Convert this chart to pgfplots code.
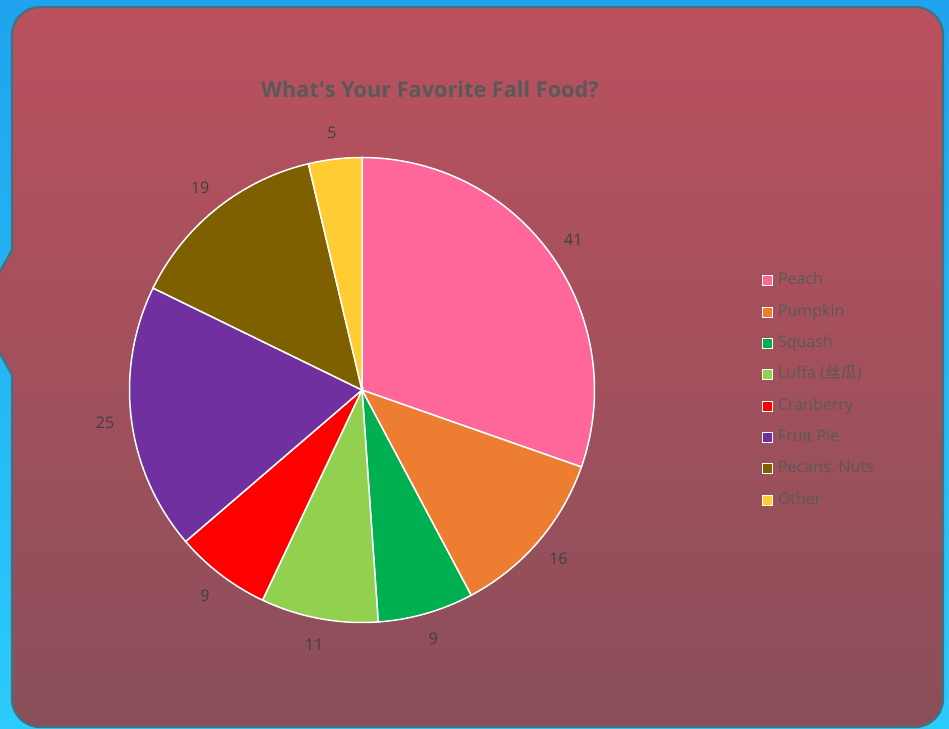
\documentclass[border=0pt]{standalone}
\usepackage{pgfplots}
\pgfplotsset{compat=1.18}
\usepackage{fontspec}
\setmainfont{Open Sans}
\newfontfamily\cjk{Noto Sans CJK SC}
\definecolor{outTop}{HTML}{1FA3EE}
\definecolor{outBot}{HTML}{2BCBFB}
\definecolor{inTop}{HTML}{BA515E}
\definecolor{inBot}{HTML}{8A4F5A}
\definecolor{edge}{HTML}{44707F}
\definecolor{ttl}{HTML}{595959}
\definecolor{lab}{HTML}{404040}
\definecolor{cPeach}{HTML}{FF6699}
\definecolor{cPumpkin}{HTML}{ED7D31}
\definecolor{cSquash}{HTML}{00B050}
\definecolor{cLuffa}{HTML}{92D050}
\definecolor{cCran}{HTML}{FF0000}
\definecolor{cFruit}{HTML}{7030A0}
\definecolor{cPecan}{HTML}{7F6000}
\definecolor{cOther}{HTML}{FFCC33}
% value before, value, colour
\newcommand\pieslice[3]{%
  \addplot[fill=#3, draw=white, line width=1.5pt, domain={90-(#1+#2)*360/135}:{90-#1*360/135}, samples=90]
    ({362+232.5*cos(x)},{338+232.5*sin(x)}) -- (axis cs:362,338) -- cycle;}
\newcommand\pielabel[2]{%
  \node[font=\fontsize{16}{18}\selectfont, text=lab] at (axis cs:{362+259*cos(90-(#1+#2/2)*360/135)},{338+259*sin(90-(#1+#2/2)*360/135)}) {#2};}
\begin{document}
\begin{tikzpicture}[x=1pt,y=1pt]
\useasboundingbox (0,0) rectangle (949,728);
\shade[top color=outTop, bottom color=outBot] (0,0) rectangle (949,728);
\begin{scope}
\clip (0,0) rectangle (949,728);
\shade[top color=inTop, bottom color=inBot]
  (12,478) -- (12,693) arc[start angle=180, end angle=90, radius=28]
  -- (915,721) arc[start angle=90, end angle=0, radius=28]
  -- (943,29) arc[start angle=0, end angle=-90, radius=28]
  -- (40,1) arc[start angle=270, end angle=180, radius=28]
  -- (12,353) -- (-3,380) -- (-3,451) -- cycle;
\draw[edge, line width=2.2pt, line join=round]
  (12,478) -- (12,693) arc[start angle=180, end angle=90, radius=28]
  -- (915,721) arc[start angle=90, end angle=0, radius=28]
  -- (943,29) arc[start angle=0, end angle=-90, radius=28]
  -- (40,1) arc[start angle=270, end angle=180, radius=28]
  -- (12,353) -- (-3,380) -- (-3,451) -- cycle;
\end{scope}
\begin{axis}[
  at={(0,0)}, anchor=south west, scale only axis,
  width=949pt, height=728pt,
  xmin=0, xmax=949, ymin=0, ymax=728,
  hide axis, clip=false,
  legend cell align=left,
  legend image code/.code={\draw[#1, draw=white, line width=1pt] (0pt,-5pt) rectangle (10pt,5pt);},
  legend style={at={(762/949,1-273/728)}, anchor=north west, draw=none, fill=none,
    inner sep=0pt, outer sep=0pt, row sep=15.3pt, column sep=5pt,
    font=\fontsize{16}{18}\selectfont, text=ttl,
    nodes={inner sep=0pt, text height=12pt, text depth=4pt}},
]
\pieslice{0}{41}{cPeach}\addlegendentry{Peach}
\pieslice{41}{16}{cPumpkin}\addlegendentry{Pumpkin}
\pieslice{57}{9}{cSquash}\addlegendentry{Squash}
\pieslice{66}{11}{cLuffa}\addlegendentry{Luffa ({\cjk 丝瓜})}
\pieslice{77}{9}{cCran}\addlegendentry{Cranberry}
\pieslice{86}{25}{cFruit}\addlegendentry{Fruit Pie}
\pieslice{111}{19}{cPecan}\addlegendentry{Pecans, Nuts}
\pieslice{130}{5}{cOther}\addlegendentry{Other}
\pielabel{0}{41}
\pielabel{41}{16}
\pielabel{57}{9}
\pielabel{66}{11}
\pielabel{77}{9}
\pielabel{86}{25}
\pielabel{111}{19}
\pielabel{130}{5}
\node[font=\bfseries\fontsize{21.7}{26}\selectfont, text=ttl] at (axis cs:430,639) {What\textquotesingle s Your Favorite Fall Food?};
\end{axis}
\end{tikzpicture}
\end{document}
